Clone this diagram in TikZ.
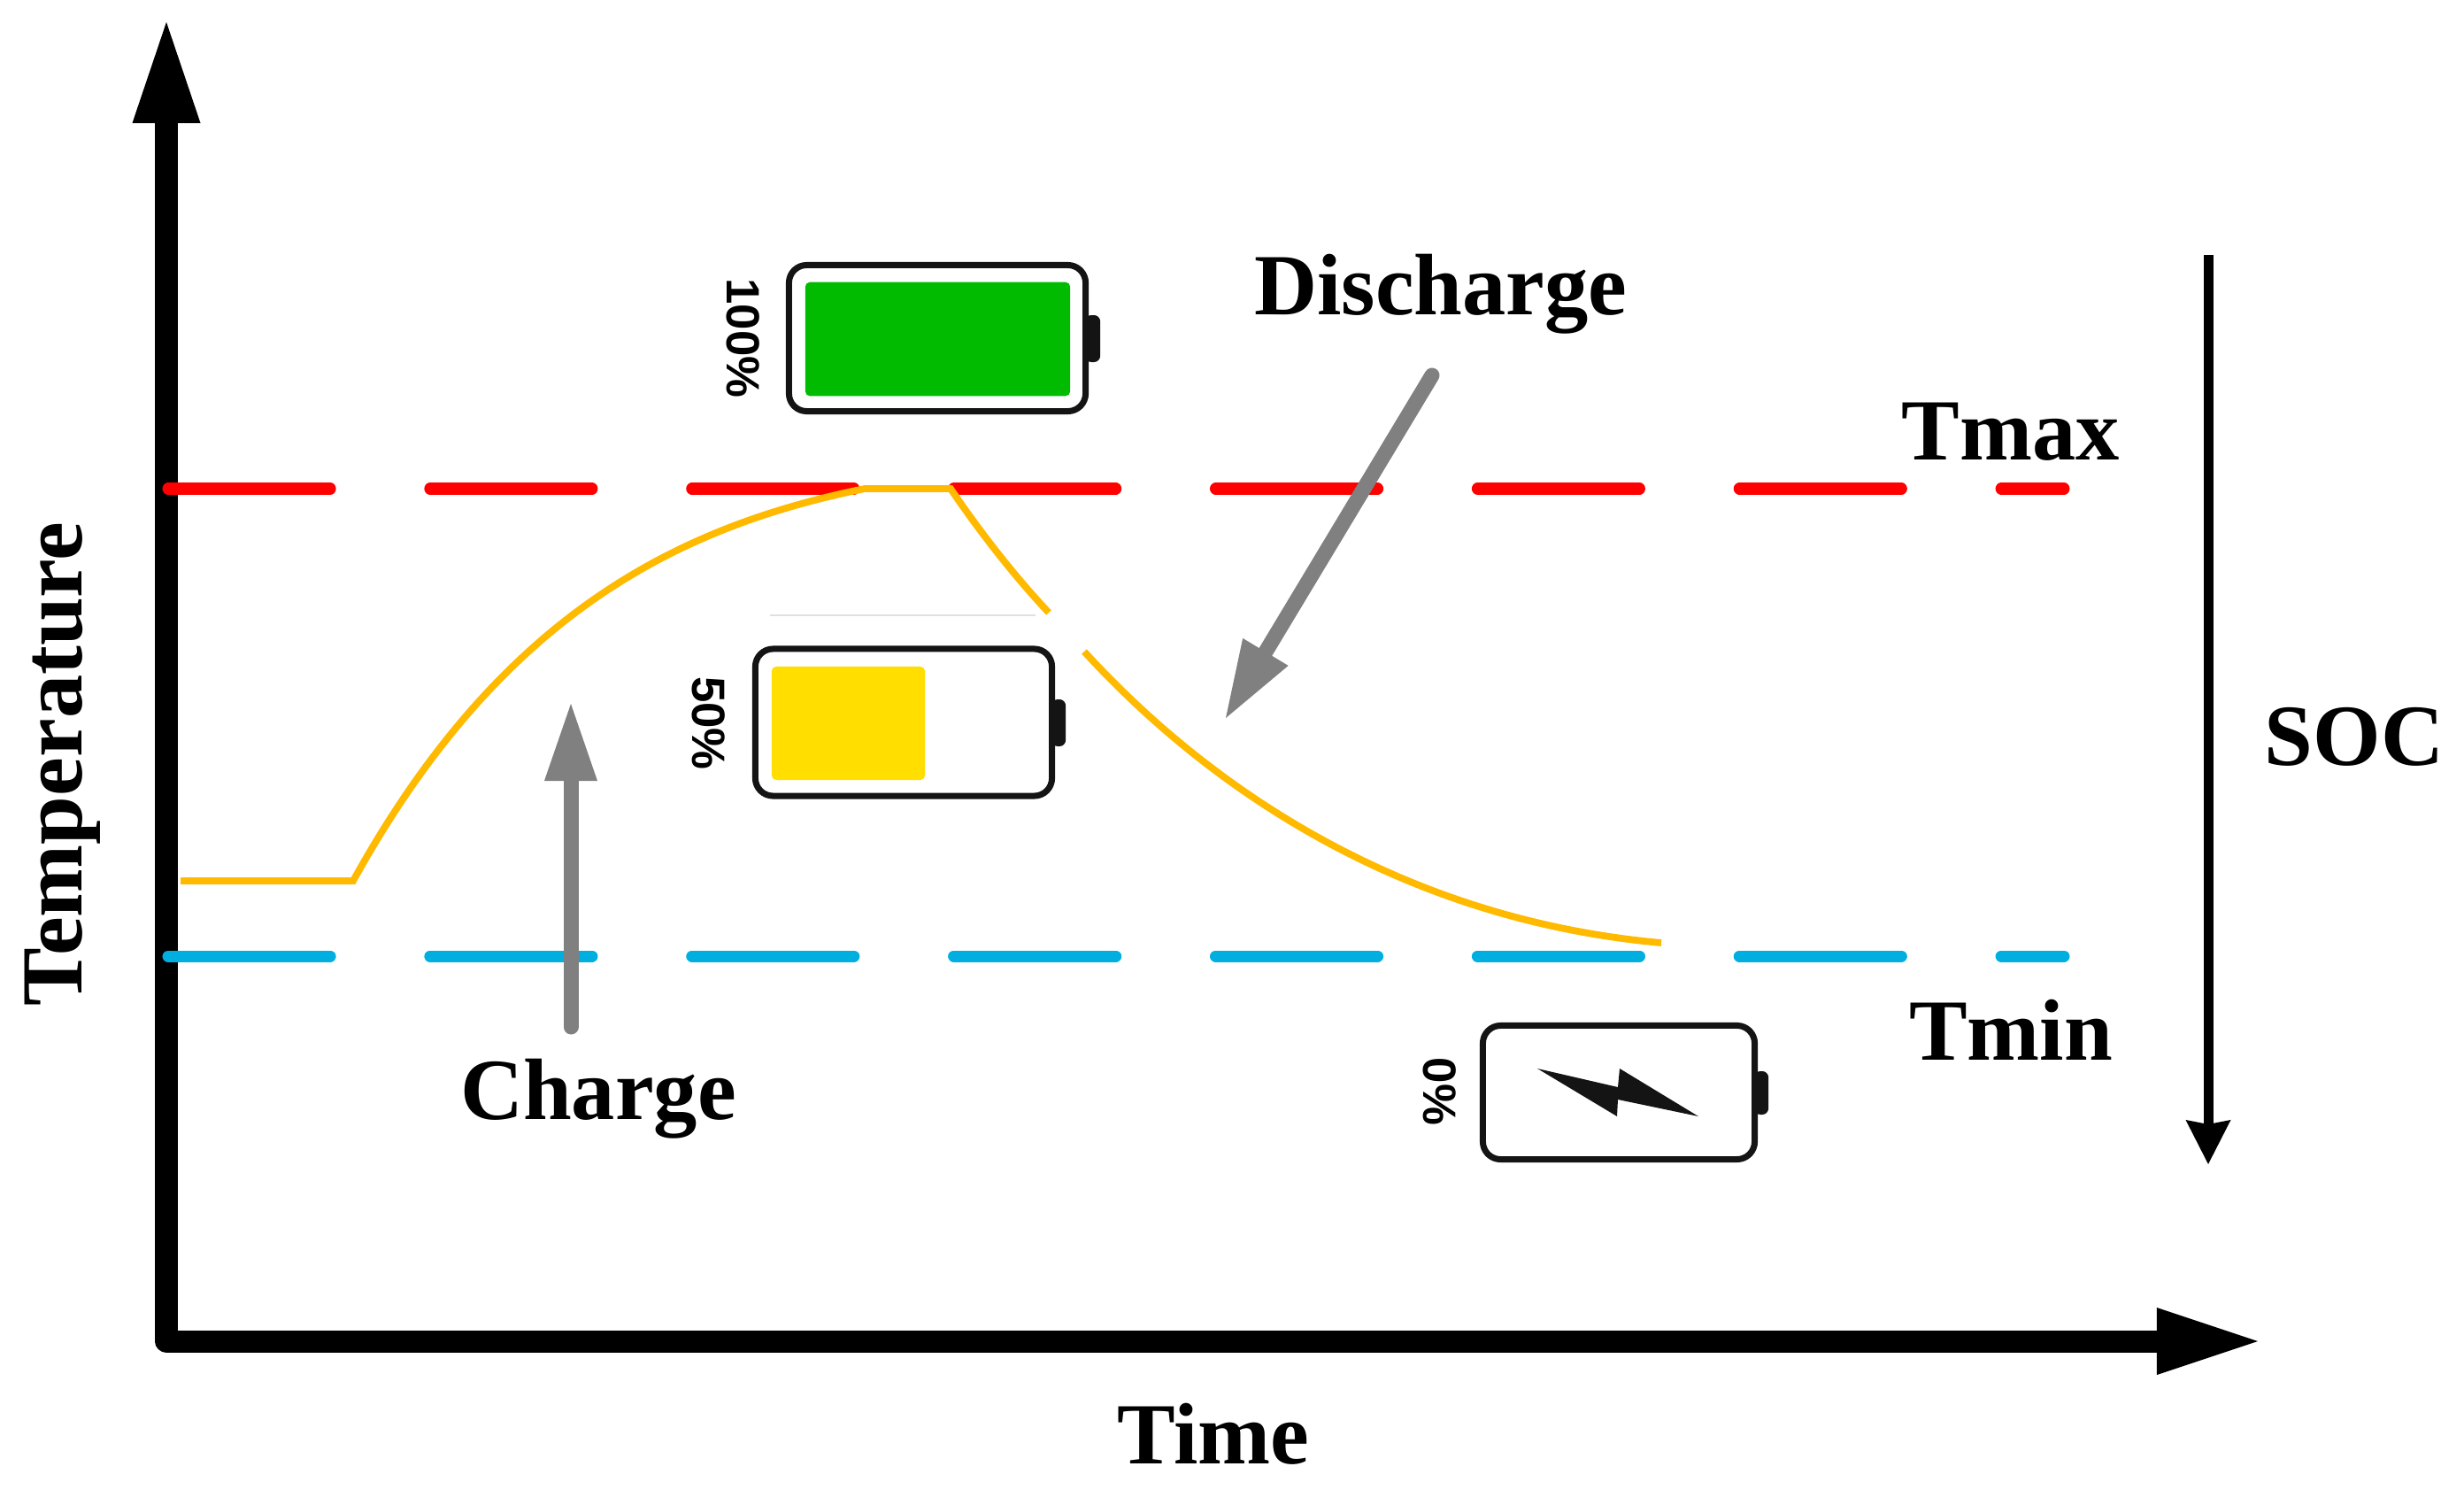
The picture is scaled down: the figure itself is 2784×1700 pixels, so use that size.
\documentclass[tikz,border=0pt]{standalone}
\usepackage{fontspec}
\setmainfont{Liberation Serif}
\newfontfamily\percentfont{Liberation Sans}
\usetikzlibrary{arrows.meta}
\usetikzlibrary{calc}
\tikzset{>=latex}
\tikzset{
    axisline/.style={line width=.25cm,line join=round,{Triangle[length=1.14cm,width=.77cm,line width=0pt]}-{Triangle[length=1.14cm,width=.76cm,line width=0pt]}},
    socline/.style={line width=.11cm,-{Stealth[length=.5cm,width=.51cm,inset=.05cm,line width=0pt]}},
    grayline/.style={draw=gray,line width=.17cm,line cap=round,-{Triangle[length=.87cm,width=.6cm,line width=0pt]}},
    limitline/.style={line width=.13cm,line cap=round,dash pattern=on 1.83cm off 1.127cm},
    curveline/.style={draw=curveorange,line width=.078cm},
    title/.style={font=\bfseries\fontsize{28}{28}\selectfont,inner sep=0pt},
    battery/.style={draw=black!92,line width=.07cm,rounded corners=.2cm,fill=white,inner sep=0pt},
    level/.style={rounded corners=.05cm,inner sep=0pt},
    percent/.style={font=\percentfont\bfseries\fontsize{15}{15}\selectfont,rotate=-90,inner sep=0pt},
    batterycap/.style={fill=black!92,rounded corners=.07cm},
}
\definecolor{curveorange}{RGB}{255,186,0}
\definecolor{limitred}{RGB}{255,0,0}
\definecolor{limitblue}{RGB}{0,174,224}
\definecolor{levelgreen}{RGB}{0,187,0}
\definecolor{levelyellow}{RGB}{255,222,0}
\begin{document}
\begin{tikzpicture}[x=0.01cm,y=-0.01cm]
    \useasboundingbox (0,0) rectangle (2784,1700);

    \coordinate (O) at (188,1515);
    \coordinate (T) at (188,25);
    \coordinate (X) at (2551,1515);

    \coordinate (Rs) at (190,552);
    \coordinate (Re) at (2332,552);
    \coordinate (Bs) at (190,1080);
    \coordinate (Be) at (2332,1080);

    \coordinate (S0) at (204,995);
    \coordinate (S1) at (399,995);
    \coordinate (S2) at (977,552);
    \coordinate (S3) at (1074,552);
    \coordinate (S4) at (1185,692);
    \coordinate (S5) at (1225,736);
    \coordinate (S6) at (1877,1065);

    \coordinate (CT) at (645,1160);
    \coordinate (CH) at (645,795);
    \coordinate (DT) at (1618,424);
    \coordinate (DH) at (1385,811);
    \coordinate (ST) at (2495,288);
    \coordinate (SH) at (2495,1315);

    \draw[axisline](T)--(O)--(X);
    \draw[limitred,limitline](Rs)--(Re);
    \draw[limitblue,limitline](Bs)--(Be);

    \draw[curveline](S0)--(S1) .. controls (565,695) and (765,595) .. (S2)--(S3) .. controls (1110,605) and (1150,655) .. (S4);
    \draw[curveline](S5) .. controls (1380,905) and (1600,1040) .. (S6);
    \draw[black!12,line width=.02cm](870,695)--(1170,695);

    \draw[grayline](CT)--(CH);
    \draw[grayline](DT)--(DH);
    \draw[socline](ST)--(SH);

    \node[battery,minimum width=3.35cm,minimum height=1.65cm] (full) at (1059,382) {};
    \node[level,fill=levelgreen,minimum width=2.99cm,minimum height=1.285cm] (fulllevel) at (1059.5,383) {};
    \fill[batterycap] ($(full.east)+(-4,-26)$) rectangle ($(full.east)+(13,27)$);
    \node[percent] (fulltext) at (840,382) {100\%};

    \node[battery,minimum width=3.35cm,minimum height=1.66cm] (half) at (1021,816) {};
    \node[level,fill=levelyellow,minimum width=1.73cm,minimum height=1.28cm] (halflevel) at (958.5,817) {};
    \fill[batterycap] ($(half.east)+(-4,-26)$) rectangle ($(half.east)+(12,27)$);
    \node[percent] (halftext) at (801,817) {50\%};

    \node[battery,minimum width=3.07cm,minimum height=1.51cm] (empty) at (1829,1234) {};
    \fill[batterycap] ($(empty.east)+(-4,-24)$) rectangle ($(empty.east)+(12,25)$);
    \fill[black!92](1737,1207)--(1828,1228)--(1830,1207)--(1919,1261)--(1828,1242)--(1827,1261)--cycle;
    \node[percent] (emptytext) at (1627,1233) {0\%};

    \node[title] (discharge) at (1628,332) {Discharge};
    \node[title] (charge) at (676,1241) {Charge};
    \node[title] (tmax) at (2272,488) {Tmax};
    \node[title] (tmin) at (2272,1163) {Tmin};
    \node[title] (soc) at (2660,832) {SOC};
    \node[title] (time) at (1371,1620) {Time};
    \node[title,rotate=90] (temperature) at (71,863) {Temperature};
\end{tikzpicture}
\end{document}
